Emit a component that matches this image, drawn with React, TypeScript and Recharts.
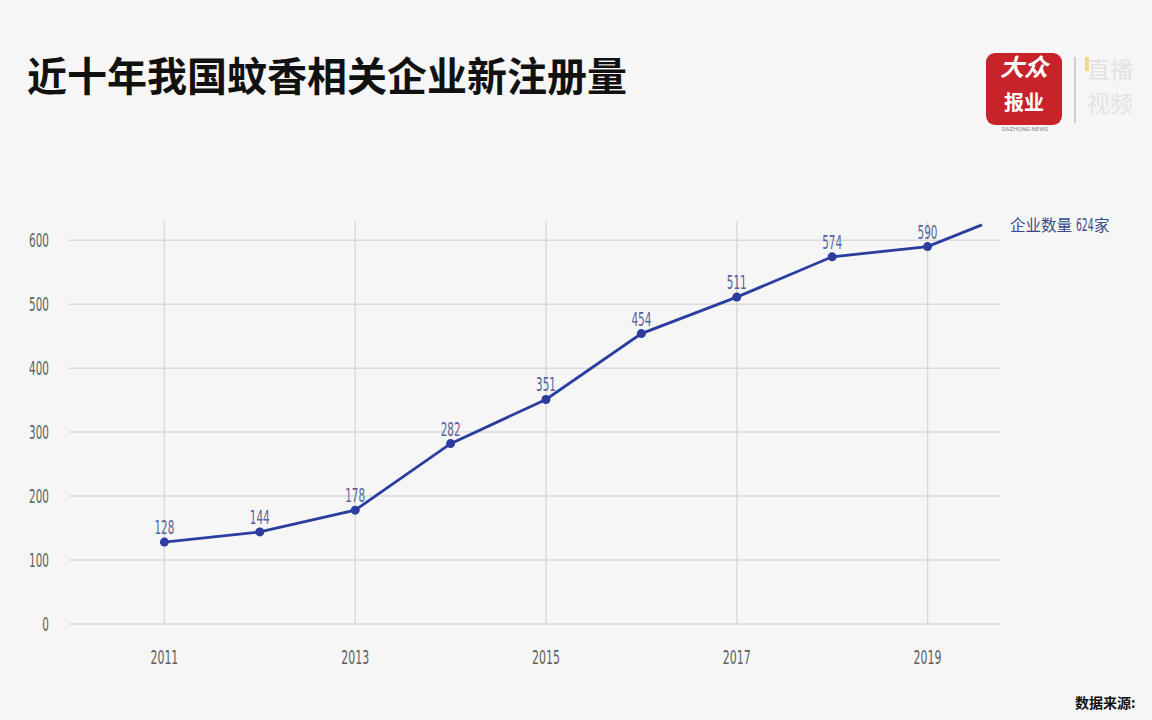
import {
  CartesianGrid,
  LabelList,
  Line,
  LineChart,
  XAxis,
  YAxis,
} from "recharts";

// years of the series; the last entry is where the drawn line stops (partly into 2020)
const years = [2011, 2012, 2013, 2014, 2015, 2016, 2017, 2018, 2019, 2019.57];
const counts = [128, 144, 178, 282, 351, 454, 511, 574, 590, 624];
const xTicks = [2011, 2013, 2015, 2017, 2019];
const yTicks = [0, 100, 200, 300, 400, 500, 600];
const seriesName = "企业数量";
const unit = "家";

const data = years.map((year, i) => ({ year, value: counts[i] }));
const lastIndex = data.length - 1;

const LINE = "#2b3d9e";
const NUM_FONT = "'Liberation Sans Narrow', 'DejaVu Sans Condensed', sans-serif";
const CJK_FONT = "'Noto Sans CJK SC', 'Noto Sans', sans-serif";

const Narrow = ({ x, y, text, anchor, color, size = 19 }: any) => (
  <g transform={`translate(${x},${y}) scale(0.61,1)`}>
    <text x={0} y={0} textAnchor={anchor} fill={color} fontSize={size} fontFamily={NUM_FONT}>
      {text}
    </text>
  </g>
);

const XTick = ({ x, y, payload }: any) => (
  <Narrow x={x} y={y + 40} text={payload.value} anchor="middle" color="#5f5f5f" size={20} />
);

const YTick = ({ x, y, payload }: any) => (
  <Narrow x={x} y={y + 7} text={payload.value} anchor="end" color="#5f5f5f" />
);

const Dot = ({ cx, cy, index }: any) =>
  index === lastIndex ? (
    <g key={`d${index}`} />
  ) : (
    <circle key={`d${index}`} cx={cx} cy={cy} r={4.5} fill={LINE} />
  );

const ValueLabel = ({ x, y, value, index }: any) => {
  if (index === lastIndex) {
    return (
      <g>
        <text x={x + 28} y={y + 6} fontSize={15.5} fill="#3b4a8c" fontFamily={CJK_FONT}>
          {seriesName}
        </text>
        <Narrow x={x + 94} y={y + 6} text={value} anchor="start" color="#3b4a8c" size={17} />
        <text x={x + 112} y={y + 6} fontSize={15.5} fill="#3b4a8c" fontFamily={CJK_FONT}>
          {unit}
        </text>
      </g>
    );
  }
  return <Narrow x={x} y={y - 8} text={value} anchor="middle" color="#56639a" />;
};

function Logo() {
  return (
    <div style={{ position: "absolute", left: 986, top: 53, width: 166, height: 80, fontFamily: CJK_FONT }}>
      <div
        style={{
          position: "absolute",
          left: 0,
          top: 0,
          width: 76,
          height: 72,
          background: "#c8232b",
          borderRadius: 9,
          color: "#fff",
        }}
      >
        <div
          style={{
            position: "absolute",
            left: 0,
            top: 1,
            width: 76,
            textAlign: "center",
            fontSize: 24,
            fontStyle: "italic",
            fontWeight: 700,
            lineHeight: 1,
          }}
        >
          大众
        </div>
        <div
          style={{
            position: "absolute",
            left: 0,
            top: 39,
            width: 76,
            textAlign: "center",
            fontSize: 20,
            fontWeight: 700,
            lineHeight: 1,
          }}
        >
          报业
        </div>
      </div>
      <div
        style={{
          position: "absolute",
          left: 4,
          top: 73,
          width: 70,
          fontSize: 6,
          lineHeight: 1,
          color: "#888",
          textAlign: "center",
          fontFamily: "Roboto, sans-serif",
        }}
      >
        DAZHONG NEWS
      </div>
      <div style={{ position: "absolute", left: 88, top: 4, width: 1.5, height: 66, background: "#cfcfcf" }} />
      <div style={{ position: "absolute", left: 99, top: 4, width: 4, height: 14, background: "#efd98a" }} />
      <div
        style={{
          position: "absolute",
          left: 101,
          top: 4,
          fontSize: 23,
          lineHeight: 1,
          color: "#e2e2e2",
          whiteSpace: "nowrap",
        }}
      >
        直播
      </div>
      <div
        style={{
          position: "absolute",
          left: 101,
          top: 38,
          fontSize: 23,
          lineHeight: 1,
          color: "#e2e2e2",
          whiteSpace: "nowrap",
        }}
      >
        视频
      </div>
    </div>
  );
}

export default function App() {
  return (
    <div
      style={{
        position: "absolute",
        left: 0,
        top: 0,
        width: 1152,
        height: 720,
        overflow: "hidden",
        background: "#f6f6f6",
      }}
    >
      <div
        style={{
          position: "absolute",
          left: 27,
          top: 46,
          fontSize: 40,
          fontWeight: 700,
          color: "#111",
          fontFamily: CJK_FONT,
          lineHeight: "56px",
          whiteSpace: "nowrap",
        }}
      >
        近十年我国蚊香相关企业新注册量
      </div>
      <Logo />
      <div style={{ position: "absolute", left: 0, top: 0 }}>
        <LineChart
          width={1152}
          height={720}
          data={data}
          margin={{ top: 221, right: 151, bottom: 0, left: 0 }}
        >
          <CartesianGrid
            stroke="#dadada"
            strokeWidth={1.5}
            horizontalValues={yTicks}
            verticalValues={xTicks}
          />
          <XAxis
            dataKey="year"
            type="number"
            domain={[2010, 2019.77]}
            ticks={xTicks}
            interval={0}
            height={96}
            axisLine={false}
            tickLine={false}
            tickSize={0}
            tickMargin={0}
            tick={<XTick />}
          />
          <YAxis
            type="number"
            domain={[0, 630]}
            ticks={yTicks}
            interval={0}
            width={69}
            axisLine={false}
            tickLine={false}
            tickSize={0}
            tickMargin={20}
            tick={<YTick />}
          />
          <Line
            type="linear"
            dataKey="value"
            name={seriesName}
            stroke={LINE}
            strokeWidth={2.8}
            dot={<Dot />}
            activeDot={false}
            isAnimationActive={false}
          >
            <LabelList dataKey="value" content={<ValueLabel />} />
          </Line>
        </LineChart>
      </div>
      <div
        style={{
          position: "absolute",
          left: 1075,
          top: 692,
          fontSize: 14,
          fontWeight: 700,
          color: "#111",
          fontFamily: CJK_FONT,
          whiteSpace: "nowrap",
        }}
      >
        数据来源:
      </div>
    </div>
  );
}
